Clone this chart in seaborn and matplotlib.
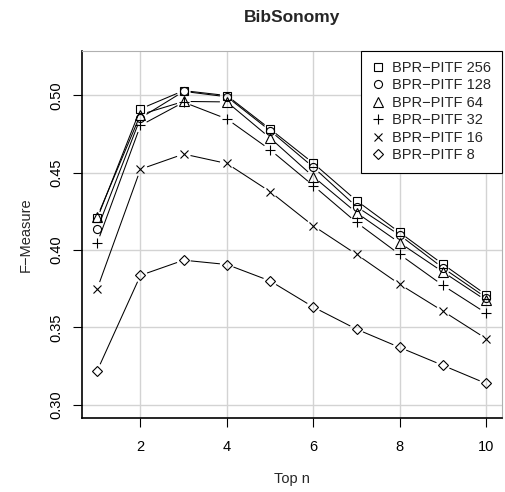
import numpy as np
import pandas as pd
import matplotlib
matplotlib.use("Agg")
import matplotlib.pyplot as plt
import seaborn as sns
from matplotlib.collections import LineCollection
from matplotlib.lines import Line2D

# ---- data ----
top_n = [1, 2, 3, 4, 5, 6, 7, 8, 9, 10]
f_256 = [0.4204, 0.4912, 0.5030, 0.4998, 0.4782, 0.4561, 0.4319, 0.4113, 0.3908, 0.3711]
f_128 = [0.4135, 0.4853, 0.5025, 0.4990, 0.4771, 0.4535, 0.4280, 0.4096, 0.3884, 0.3692]
f_64 = [0.4215, 0.4875, 0.4960, 0.4957, 0.4724, 0.4474, 0.4241, 0.4046, 0.3858, 0.3674]
f_32 = [0.4046, 0.4805, 0.4955, 0.4847, 0.4648, 0.4416, 0.4178, 0.3971, 0.3771, 0.3592]
f_16 = [0.3750, 0.4522, 0.4620, 0.4559, 0.4377, 0.4156, 0.3972, 0.3778, 0.3605, 0.3427]
f_8 = [0.3220, 0.3836, 0.3934, 0.3906, 0.3800, 0.3631, 0.3488, 0.3370, 0.3254, 0.3137]
series_labels = ["BPR\u2212PITF 256", "BPR\u2212PITF 128", "BPR\u2212PITF 64",
                 "BPR\u2212PITF 32", "BPR\u2212PITF 16", "BPR\u2212PITF 8"]
x_ticks = [2, 4, 6, 8, 10]
y_ticks = [0.30, 0.35, 0.40, 0.45, 0.50]
y_tick_labels = ["0.30", "0.35", "0.40", "0.45", "0.50"]

series_values = [f_256, f_128, f_64, f_32, f_16, f_8]
markers = ["s", "o", "^", "+", "x", "D"]
msizes = [5.6, 5.8, 6.8, 7.0, 6.0, 5.4]

sns.set_style("white")
plt.rcParams['font.family'] = ['Liberation Sans', 'DejaVu Sans']

df = pd.DataFrame({
    "top_n": top_n * len(series_labels),
    "f": sum(series_values, []),
    "model": [lab for lab in series_labels for _ in top_n],
})

W, H = 505, 492
fig = plt.figure(figsize=(W / 100, H / 100), dpi=100)
left, right, top, bottom = 81.7, 501.7, 50.7, 418.3
ax = fig.add_axes([left / W, 1 - bottom / H, (right - left) / W, (bottom - top) / H])

ax.set_xlim(0.64, 10.36)
ax.set_ylim(0.2912, 0.5288)

# markers via seaborn
for lab, mk, ms in zip(series_labels, markers, msizes):
    sub = df[df["model"] == lab]
    sns.lineplot(data=sub, x="top_n", y="f", ax=ax, marker=mk, markersize=ms,
                 markerfacecolor="none", markeredgecolor="black", markeredgewidth=0.8,
                 color="black", linestyle="none", errorbar=None, legend=False, zorder=3)

ax.set_xlim(0.64, 10.36)
ax.set_ylim(0.2912, 0.5288)

# gapped connecting lines (R type="b")
gap = 7.0
inv = ax.transData.inverted()
for vals in series_values:
    pts = ax.transData.transform(np.column_stack([top_n, vals]))
    segs = []
    for p, q in zip(pts[:-1], pts[1:]):
        d = q - p
        L = np.hypot(d[0], d[1])
        if L > 2 * gap:
            u = d / L
            segs.append(inv.transform(np.array([p + u * gap, q - u * gap])))
    ax.add_collection(LineCollection(segs, colors="black", linewidths=0.75, zorder=2))

# grid / axes
ax.set_axisbelow(True)
ax.grid(True, color="#d3d3d3", linewidth=1.0)
ax.set_xticks(x_ticks)
ax.set_xticklabels([str(t) for t in x_ticks])
ax.set_yticks(y_ticks)
ax.set_yticklabels(y_tick_labels)
ax.tick_params(axis="both", which="major", bottom=True, left=True, direction="out",
               length=6.5, width=0.8, color="black", labelsize=10.5, labelcolor="black")
ax.tick_params(axis="x", pad=9)
ax.tick_params(axis="y", pad=7, labelrotation=90)
for t in ax.get_yticklabels():
    t.set_va("center")

for s in ["left", "bottom"]:
    ax.spines[s].set_color("black")
    ax.spines[s].set_linewidth(1.2)
for s in ["top", "right"]:
    ax.spines[s].set_color("#b0b0b0")
    ax.spines[s].set_linewidth(0.8)

ax.set_title("BibSonomy", fontsize=12.5, fontweight="bold", pad=21)
ax.set_xlabel("Top n", fontsize=10.5)
ax.xaxis.set_label_coords(0.5, -0.145)
ax.set_ylabel("F\u2212Measure", fontsize=10.5)
ax.yaxis.set_label_coords(-0.116, 0.5)

handles = [Line2D([], [], linestyle="none", marker=mk, markersize=ms,
                  markerfacecolor="none", markeredgecolor="black", markeredgewidth=0.8)
           for mk, ms in zip(markers, msizes)]
leg = ax.legend(handles, series_labels, loc="upper right", fontsize=10.5,
                borderaxespad=0, borderpad=0.7, labelspacing=0.24,
                handlelength=0.85, handletextpad=0.6, fancybox=False, framealpha=1)
leg.get_frame().set_edgecolor("black")
leg.get_frame().set_linewidth(0.8)

fig.savefig("out.png", dpi=100)
